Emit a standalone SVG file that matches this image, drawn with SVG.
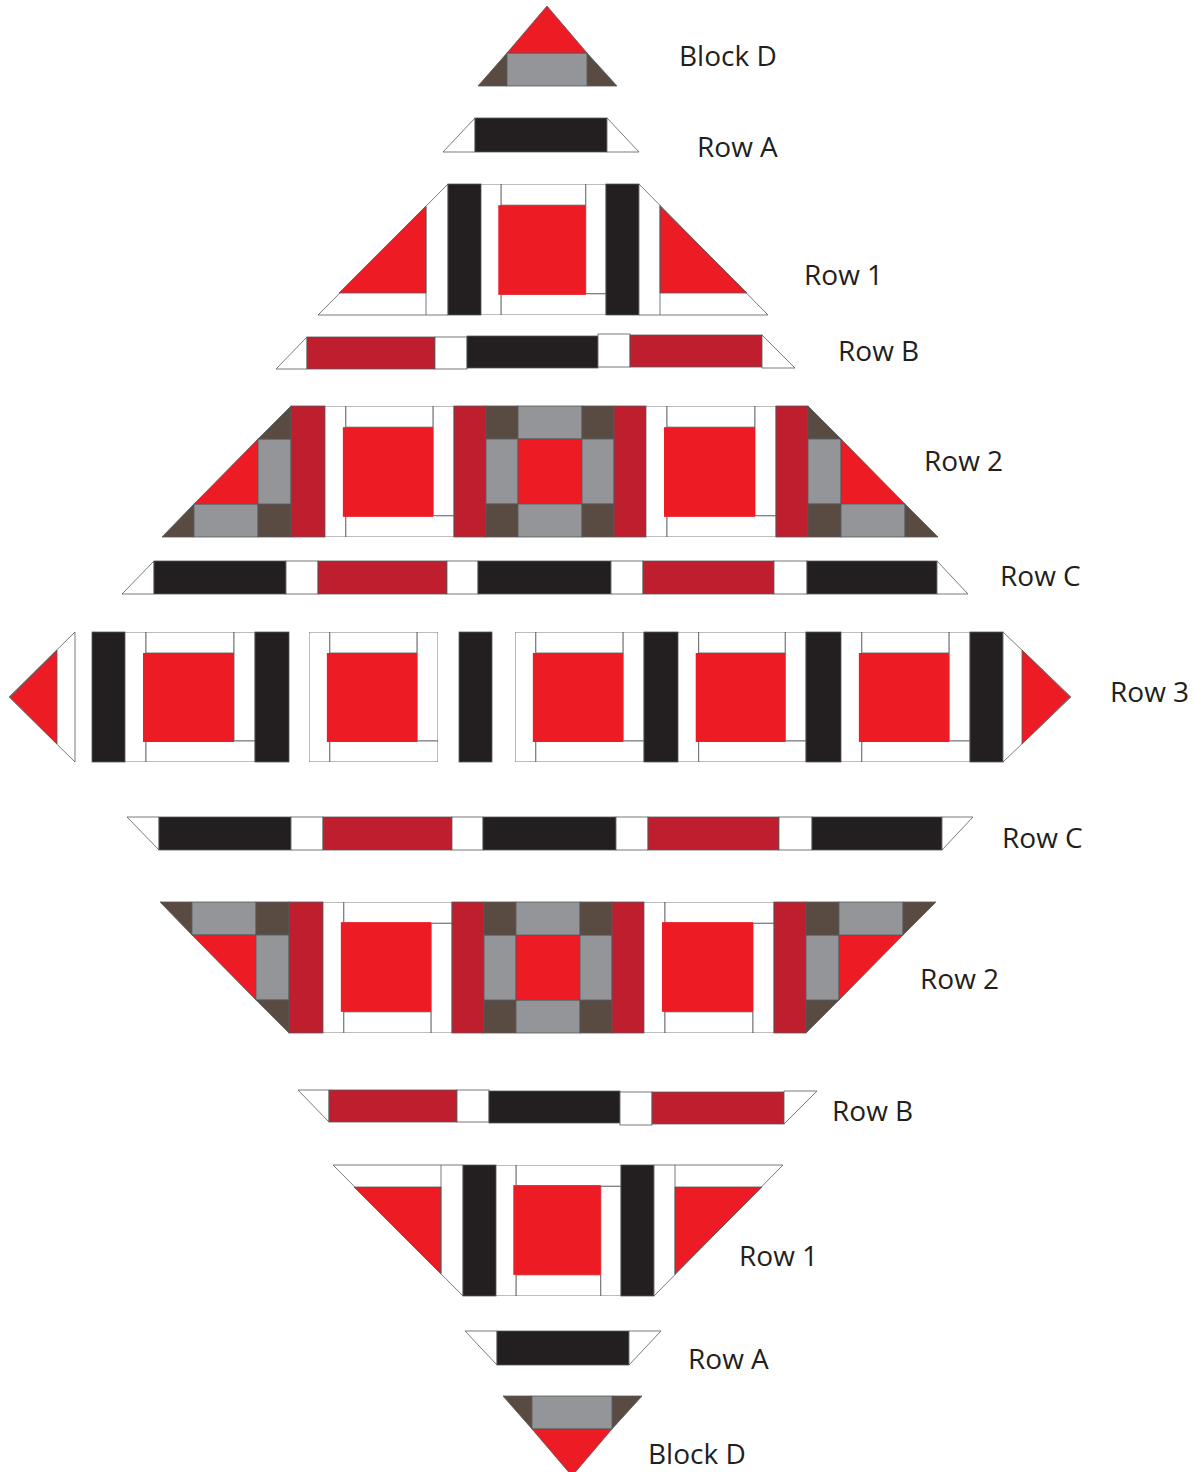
<svg xmlns="http://www.w3.org/2000/svg" xmlns:xlink="http://www.w3.org/1999/xlink" width="1194" height="1472" viewBox="0 0 1194 1472">
<style>
.w{fill:#FFFFFF}.k{fill:#231F20}.r{fill:#ED1C24}.d{fill:#BE1E2D}.g{fill:#939598}.b{fill:#594A42}
.p rect,.p polygon,.p line{stroke:#58595B;stroke-width:0.8}
.s{stroke:#58595B;stroke-width:0.8;vector-effect:non-scaling-stroke}
.p .rs,.rs{stroke:none}
.lbl{font-family:"Open Sans","Liberation Sans",sans-serif;font-size:28px;fill:#231F20}
</style>
<defs>
<symbol id="lc" viewBox="0 0 130 130" preserveAspectRatio="none">
<rect class="w s" x="0" y="0" width="21" height="130"/>
<rect class="w s" x="21" y="0" width="88" height="21"/>
<rect class="w s" x="109" y="0" width="21" height="109"/>
<rect class="w s" x="21" y="109" width="109" height="21"/>
<rect class="r rs" x="18" y="21" width="91" height="89"/>
</symbol>
</defs>
<rect x="0" y="0" width="1194" height="1472" fill="#FFFFFF"/>

<g id="block-d-top">
<g id="block-d-top-shape" class="p">
<polygon class="b" points="478,86 507,53 507,86"/>
<polygon class="b" points="587,53 617,86 587,86"/>
<rect class="g" x="507" y="53" width="80" height="33"/>
<polygon class="r" points="547,6 507,53 587,53"/>
</g>
<text class="lbl" x="679" y="66">Block D</text>
</g>

<g id="row-a-top">
<g id="row-a-top-shape" class="p">
<polygon class="w" points="443,152 475,118 475,152"/>
<rect class="k" x="475" y="118" width="132" height="34"/>
<polygon class="w" points="607,118 639,152 607,152"/>
</g>
<text class="lbl" x="697" y="157">Row A</text>
</g>

<g id="row-1-top">
<g id="row-1-top-shape" class="p">
<polygon class="w" points="318,315 448,184 448,315"/>
<polygon class="r" points="339,293 426,206 426,293"/>
<line x1="426" y1="207" x2="426" y2="315"/>
<rect class="k" x="448" y="184" width="33" height="131"/>
<use href="#lc" x="481" y="184" width="125" height="131"/>
<rect class="k" x="606" y="184" width="33" height="131"/>
<polygon class="w" points="639,184 768,315 639,315"/>
<polygon class="r" points="660,206 747,293 660,293"/>
<line x1="660" y1="205" x2="660" y2="315"/>
</g>
<text class="lbl" x="804" y="285">Row 1</text>
</g>

<g id="row-b-top">
<g id="row-b-top-shape" class="p">
<polygon class="w" points="276,369 307,337 307,369"/>
<rect class="d" x="307" y="337" width="128" height="32"/>
<rect class="w" x="435" y="337" width="32" height="32"/>
<rect class="k" x="467" y="336" width="131" height="32"/>
<rect class="w" x="598" y="334" width="32" height="33"/>
<rect class="d" x="630" y="335" width="132" height="32"/>
<polygon class="w" points="762,335 795,368 762,368"/>
</g>
<text class="lbl" x="838" y="361">Row B</text>
</g>

<g id="row-2-top">
<g id="row-2-top-shape" class="p">
<polygon class="b" points="162,537 194,504 194,537"/>
<rect class="g" x="194" y="504" width="64" height="33"/>
<rect class="b" x="258" y="504" width="33" height="33"/>
<polygon class="r" points="194,504 258,439 258,504"/>
<rect class="g" x="258" y="439" width="33" height="65"/>
<polygon class="b" points="258,439 291,406 291,439"/>
<rect class="d" x="291" y="406" width="34" height="131"/>
<use href="#lc" x="325" y="406" width="129" height="131"/>
<rect class="d" x="454" y="406" width="32" height="131"/>
<rect class="b" x="486" y="406" width="32" height="33"/>
<rect class="g" x="518" y="406" width="64" height="33"/>
<rect class="b" x="582" y="406" width="32" height="33"/>
<rect class="g" x="486" y="439" width="32" height="65"/>
<rect class="r" x="518" y="439" width="64" height="65"/>
<rect class="g" x="582" y="439" width="32" height="65"/>
<rect class="b" x="486" y="504" width="32" height="33"/>
<rect class="g" x="518" y="504" width="64" height="33"/>
<rect class="b" x="582" y="504" width="32" height="33"/>
<rect class="d" x="614" y="406" width="32" height="131"/>
<use href="#lc" x="646" y="406" width="130" height="131"/>
<rect class="d" x="776" y="406" width="32" height="131"/>
<polygon class="b" points="808,406 841,439 808,439"/>
<rect class="g" x="808" y="439" width="33" height="65"/>
<polygon class="r" points="841,439 905,504 841,504"/>
<rect class="b" x="808" y="504" width="33" height="33"/>
<rect class="g" x="841" y="504" width="64" height="33"/>
<polygon class="b" points="905,504 938,537 905,537"/>
</g>
<text class="lbl" x="924" y="471">Row 2</text>
</g>

<g id="row-c-top">
<g id="row-c-top-shape" class="p">
<polygon class="w" points="122,594 154,561 154,594"/>
<rect class="k" x="154" y="561" width="132" height="33"/>
<rect class="w" x="286" y="561" width="32" height="33"/>
<rect class="d" x="318" y="561" width="129" height="33"/>
<rect class="w" x="447" y="561" width="31" height="33"/>
<rect class="k" x="478" y="561" width="133" height="33"/>
<rect class="w" x="611" y="561" width="32" height="33"/>
<rect class="d" x="643" y="561" width="131" height="33"/>
<rect class="w" x="774" y="561" width="33" height="33"/>
<rect class="k" x="807" y="561" width="130" height="33"/>
<polygon class="w" points="937,561 968,594 937,594"/>
</g>
<text class="lbl" x="1000" y="586">Row C</text>
</g>

<g id="row-3">
<g id="row-3-shape" class="p">
<polygon class="w" points="9,697 75,632 75,762"/>
<polygon class="r" points="10,697 57,650 57,744"/>
<rect class="k" x="92" y="632" width="33" height="130"/>
<use href="#lc" x="125" y="632" width="130" height="130"/>
<rect class="k" x="255" y="632" width="34" height="130"/>
<use href="#lc" x="309" y="632" width="129" height="130"/>
<rect class="k" x="459" y="632" width="33" height="130"/>
<use href="#lc" x="515" y="632" width="129" height="130"/>
<rect class="k" x="644" y="632" width="34" height="130"/>
<use href="#lc" x="678" y="632" width="128" height="130"/>
<rect class="k" x="806" y="632" width="35" height="130"/>
<use href="#lc" x="841" y="632" width="129" height="130"/>
<rect class="k" x="970" y="632" width="33" height="130"/>
<polygon class="w" points="1003,632 1071,697 1003,762"/>
<polygon class="r" points="1022,650 1070,697 1022,744"/>
</g>
<text class="lbl" x="1110" y="702">Row 3</text>
</g>

<g id="row-c-bottom">
<use href="#row-c-top-shape" transform="translate(5,1411) scale(1,-1)"/>
<text class="lbl" x="1002" y="848">Row C</text>
</g>

<g id="row-2-bottom">
<use href="#row-2-top-shape" transform="translate(-2,1439) scale(1,-1)"/>
<text class="lbl" x="920" y="989">Row 2</text>
</g>

<g id="row-b-bottom">
<use href="#row-b-top-shape" transform="translate(22,1459) scale(1,-1)"/>
<text class="lbl" x="832" y="1121">Row B</text>
</g>

<g id="row-1-bottom">
<use href="#row-1-top-shape" transform="translate(15,1480) scale(1,-1)"/>
<text class="lbl" x="739" y="1266">Row 1</text>
</g>

<g id="row-a-bottom">
<use href="#row-a-top-shape" transform="translate(22,1483) scale(1,-1)"/>
<text class="lbl" x="688" y="1369">Row A</text>
</g>

<g id="block-d-bottom">
<use href="#block-d-top-shape" transform="translate(25,1482) scale(1,-1)"/>
<text class="lbl" x="648" y="1464">Block D</text>
</g>
</svg>
